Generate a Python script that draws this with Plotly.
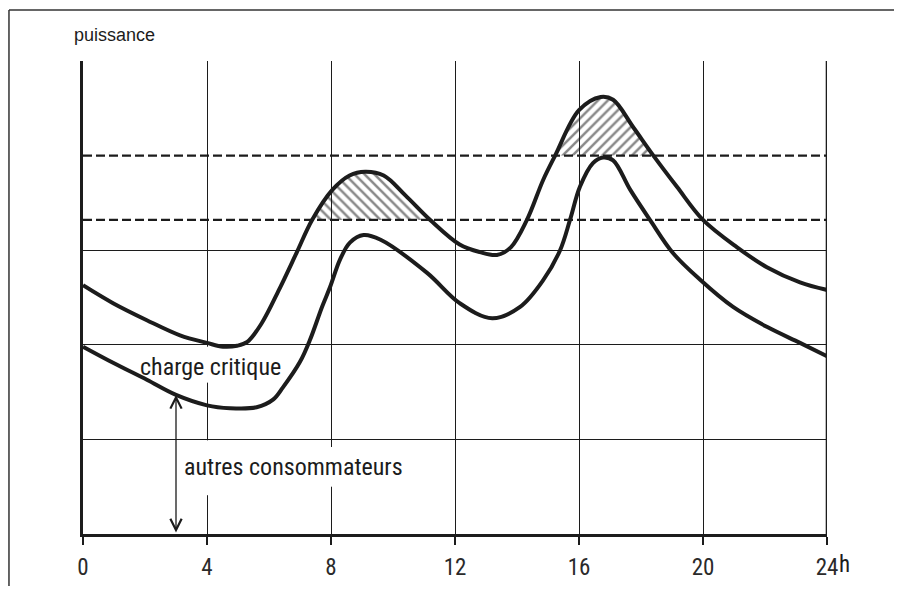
import plotly.graph_objects as go

# ---- data ----
hours_upper = [0, 0.97, 2.06, 3.13, 4.0, 4.52, 4.97, 5.3, 5.75, 6.35, 6.9, 7.39, 8.05, 8.6, 9.1, 9.7,
               10.4, 11.2, 12.15, 12.8, 13.35, 13.8, 14.32, 14.84, 15.23, 16.0, 16.7, 17.1,
               17.75, 18.4, 19.16, 20.0, 21.1, 22.06, 23.13, 24]
power_upper = [2.63, 2.44, 2.26, 2.10, 2.02, 1.98, 1.99, 2.03, 2.22, 2.60, 2.98, 3.32, 3.64, 3.79, 3.83, 3.79,
               3.58, 3.32, 3.06, 2.98, 2.95, 3.03, 3.32, 3.74, 4.0, 4.48, 4.62, 4.59,
               4.30, 4.0, 3.67, 3.32, 3.03, 2.82, 2.66, 2.58]

hours_lower = [0, 0.97, 2.06, 3.0, 4.0, 4.74, 5.6, 6.13, 6.45, 7.0, 7.32, 7.71, 7.97, 8.29, 8.61, 9.05, 9.6,
               11.1, 12.15, 13.2, 14.1, 14.84, 15.39, 15.71, 16.03, 16.45, 16.77, 17.1, 17.65,
               18.29, 19.03, 19.9, 20.97, 22.06, 23.13, 24]
power_lower = [1.98, 1.81, 1.63, 1.47, 1.36, 1.33, 1.34, 1.42, 1.55, 1.82, 2.05, 2.40, 2.61, 2.90, 3.08, 3.16, 3.11,
               2.76, 2.44, 2.28, 2.40, 2.68, 3.0, 3.32, 3.67, 3.92, 3.98, 3.95, 3.64,
               3.32, 2.97, 2.69, 2.40, 2.19, 2.02, 1.88]

thresholds = [3.32, 4.0]                 # dashed limit lines
hatch_windows = [(0, 12), (12, 24)]      # which peak is hatched for each threshold
hatch_shapes = ["\\", "/"]

x_ticks = [0, 4, 8, 12, 16, 20, 24]
x_ticklabels = ["0", "4", "8", "12", "16", "20", "24"]
y_grid = [1, 2, 3, 5]
arrow_hour = 3.0

INK = "#1c1c1c"
SMOOTH = 1.0
NARROW = "Liberation Sans Narrow, Roboto Condensed, DejaVu Sans Condensed, sans-serif"
fig = go.Figure()

# hatched areas above the dashed lines
for thr, (w0, w1), pat in zip(thresholds, hatch_windows, hatch_shapes):
    seg = [(h, p) for h, p in zip(hours_upper, power_upper) if w0 <= h <= w1 and p >= thr - 1e-9]
    xs = [s[0] for s in seg]
    ys = [s[1] for s in seg]
    fig.add_trace(go.Scatter(x=[xs[0], xs[-1]], y=[thr, thr], mode="lines",
                             line=dict(width=0), hoverinfo="skip", showlegend=False))
    fig.add_trace(go.Scatter(x=xs, y=ys, mode="lines",
                             line=dict(width=0, shape="spline", smoothing=SMOOTH),
                             fill="tonexty", fillcolor="rgba(0,0,0,0)",
                             fillpattern=dict(shape=pat, fgcolor="#111", bgcolor="rgba(0,0,0,0)",
                                              size=7, solidity=0.36, fillmode="overlay"),
                             hoverinfo="skip", showlegend=False))

# dashed limit lines
for thr in thresholds:
    fig.add_trace(go.Scatter(x=[0, 24], y=[thr, thr], mode="lines",
                             line=dict(color=INK, width=2.3, dash="9px,4px"),
                             hoverinfo="skip", showlegend=False))

# load curves
for hx, py in ((hours_upper, power_upper), (hours_lower, power_lower)):
    fig.add_trace(go.Scatter(x=hx, y=py, mode="lines",
                             line=dict(color=INK, width=4, shape="spline", smoothing=SMOOTH),
                             hoverinfo="skip", showlegend=False))

# white gaps in the grid behind the labels
gaps = [(3.9, 4.1, 1.6, 1.98), (3.9, 4.1, 0.41, 0.99), (7.9, 8.1, 0.5, 0.92)]
shapes = []
for x0, x1, y0, y1 in gaps:
    shapes.append(dict(type="rect", xref="x", yref="y", x0=x0, x1=x1, y0=y0, y1=y1,
                       fillcolor="white", line=dict(width=0), layer="between"))
# right edge of the plot, thicker
shapes.append(dict(type="line", xref="x", yref="paper", x0=24, x1=24, y0=0, y1=1,
                   line=dict(color=INK, width=2.6)))
# outer frame of the figure (top and left edges)
shapes.append(dict(type="line", xref="paper", yref="paper", x0=-0.0995, x1=1.101, y0=1.1078, y1=1.1078,
                   line=dict(color="#333", width=1.5)))
shapes.append(dict(type="line", xref="paper", yref="paper", x0=-0.0995, x1=-0.0995, y0=-0.11, y1=1.1078,
                   line=dict(color="#333", width=1.5)))

lbl_font = dict(family=NARROW, size=24, color=INK)
annotations = [
    dict(text="puissance", xref="paper", yref="paper", x=-0.0148, y=1.055, xanchor="left",
         yanchor="middle", showarrow=False,
         font=dict(family="Liberation Sans, Arial, sans-serif", size=18, color=INK)),
    dict(text="charge critique", xref="x", yref="y", x=4.1, y=1.765, xanchor="center",
         yanchor="middle", showarrow=False, font=lbl_font),
    dict(text="autres consommateurs", xref="x", yref="y", x=3.2, y=0.71, xanchor="left",
         yanchor="middle", showarrow=False, font=lbl_font),
    dict(text="h", xref="x", yref="paper", x=24, y=-0.0655, xanchor="left", yanchor="middle",
         xshift=10, showarrow=False, font=dict(family=NARROW, size=23, color=INK)),
]
# double arrow for "autres consommateurs"
lower_at_arrow = power_lower[hours_lower.index(arrow_hour)]
annotations.append(dict(x=arrow_hour, y=lower_at_arrow, ax=arrow_hour, ay=0, xref="x", yref="y",
                        axref="x", ayref="y", text="", showarrow=True, arrowhead=5,
                        startarrowhead=5, arrowside="end+start", arrowsize=1.7, arrowwidth=1.3,
                        startarrowsize=1.7, arrowcolor=INK))

fig.update_layout(
    width=886, height=578,
    margin=dict(l=75, r=67, t=53, b=52, autoexpand=False),
    paper_bgcolor="white", plot_bgcolor="white",
    shapes=shapes, annotations=annotations,
    xaxis=dict(range=[0, 24], tickvals=x_ticks, ticktext=x_ticklabels, showgrid=True,
               gridcolor=INK, gridwidth=1.4, zeroline=False, showline=True, linecolor=INK,
               linewidth=3, ticks="outside", ticklen=8, tickwidth=1.5, tickcolor=INK,
               ticklabelstandoff=2, automargin=False,
               tickfont=dict(family=NARROW, size=23, color="#2a2a2a")),
    yaxis=dict(range=[0, 5], tickvals=y_grid, showticklabels=False, showgrid=True,
               gridcolor=INK, gridwidth=1.4, zeroline=False, showline=True, linecolor=INK,
               linewidth=3, ticks="", automargin=False),
)

fig.write_html("out.html", config={"displayModeBar": False})
